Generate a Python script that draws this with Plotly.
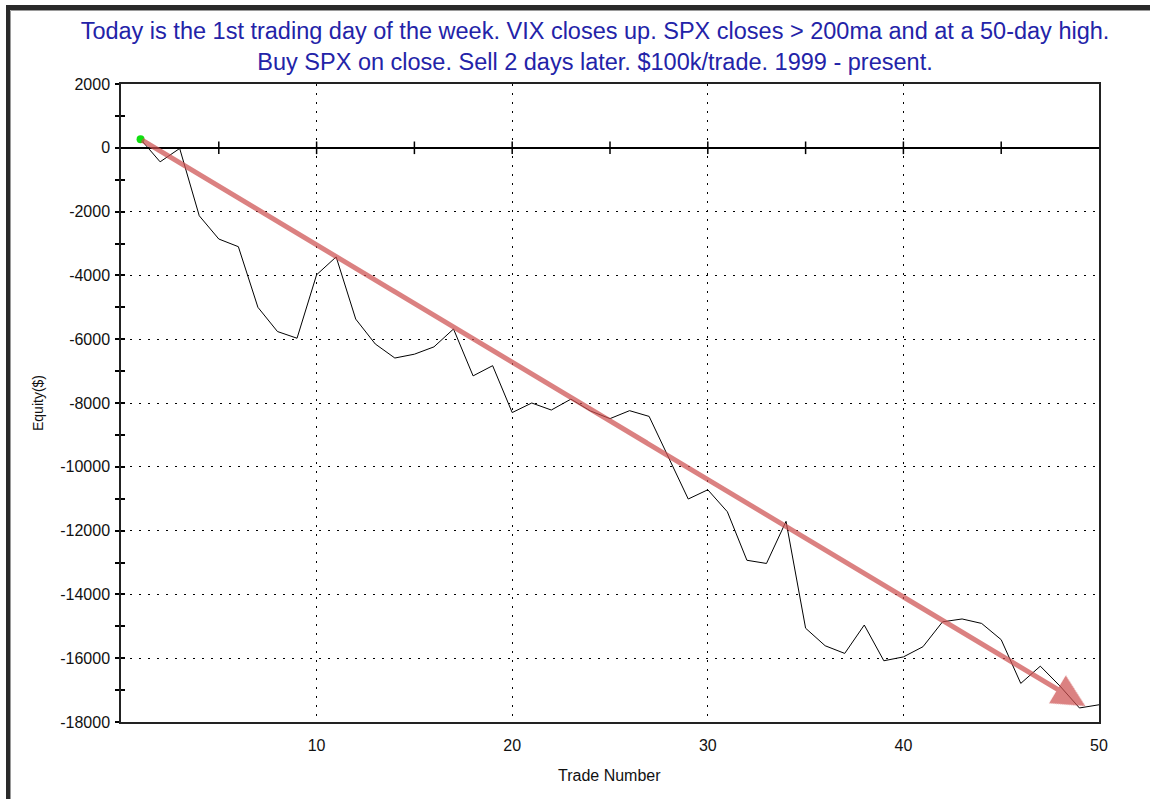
import plotly.graph_objects as go

# ---- data ----
trade_number = list(range(1, 51))
equity = [270, -440, -20, -2130, -2860, -3100, -5000, -5760, -5970, -3980,
          -3420, -5370, -6150, -6590, -6470, -6240, -5680, -7150, -6830, -8300,
          -8000, -8220, -7880, -8250, -8490, -8240, -8420, -9710, -11010, -10720,
          -11410, -12930, -13030, -11710, -15060, -15610, -15850, -14960, -16080, -15960,
          -15640, -14860, -14770, -14910, -15420, -16790, -16250, -16870, -17560, -17460]

x_range = [0, 50]
y_range = [-18000, 2000]
x_tick_vals = [10, 20, 30, 40, 50]
y_tick_vals = list(range(-18000, 2001, 2000))
y_tick_text = [str(v) for v in y_tick_vals]
zero_line_ticks = [5, 10, 15, 20, 25, 30, 35, 40, 45]
trend_start = (1, 270)
trend_end = (49.3, -17500)

title_lines = [
    "Today is the 1st trading day of the week. VIX closes up. SPX closes > 200ma and at a 50-day high.",
    "Buy SPX on close. Sell 2 days later. $100k/trade. 1999 - present.",
]

W, H = 1150, 799
L, R, T, B = 121, 51, 84, 77
PW, PH = W - L - R, H - T - B


def px_x(p):
    return (p - L) / PW


def px_y(p):
    return (H - B - p) / PH


fig = go.Figure()

fig.add_trace(go.Scatter(
    x=trade_number, y=equity, mode="lines",
    line=dict(color="black", width=1), showlegend=False, hoverinfo="skip"))

fig.add_trace(go.Scatter(
    x=zero_line_ticks, y=[0] * len(zero_line_ticks), mode="markers",
    marker=dict(symbol="line-ns-open", size=9, color="black",
                line=dict(color="black", width=1.5)),
    showlegend=False, hoverinfo="skip"))

fig.add_trace(go.Scatter(
    x=trade_number[:1], y=equity[:1], mode="markers",
    marker=dict(color="#10e010", size=8, line=dict(width=0)),
    showlegend=False, hoverinfo="skip"))

font_family = "Liberation Sans, Arial, sans-serif"
tick_font = dict(family=font_family, size=16, color="#111")

fig.update_layout(
    width=W, height=H,
    margin=dict(l=L, r=R, t=T, b=B),
    paper_bgcolor="white", plot_bgcolor="white",
    font=dict(family=font_family, size=16, color="#111"),
    title=dict(text="<br>".join(title_lines), x=595 / W, xanchor="center",
               y=1 - 39 / H, yanchor="middle",
               font=dict(family=font_family, size=23.5, color="#2323a8")),
    xaxis=dict(range=x_range, tickvals=x_tick_vals, showgrid=True,
               gridcolor="black", gridwidth=1, griddash="2px,7px",
               showline=True, linecolor="#222", linewidth=1.5, mirror=True,
               zeroline=False, ticks="", ticklabelstandoff=8,
               tickfont=tick_font),
    yaxis=dict(range=y_range, tickvals=y_tick_vals, ticktext=y_tick_text,
               showgrid=True,
               gridcolor="black", gridwidth=1, griddash="2px,7px",
               showline=True, linecolor="#222", linewidth=1.5, mirror=True,
               zeroline=True, zerolinecolor="black", zerolinewidth=1.5,
               ticks="outside", ticklen=4, tickwidth=1.5, tickcolor="black",
               minor=dict(dtick=1000, ticks="outside", ticklen=4, tickwidth=1.5,
                          tickcolor="black", showgrid=False),
               ticklabelstandoff=2, tickfont=tick_font),
    yaxis2=dict(range=y_range, overlaying="y", side="left", showgrid=False,
                zeroline=False, showline=False, showticklabels=False,
                tickvals=y_tick_vals, ticks="inside", ticklen=4, tickwidth=1.5,
                tickcolor="black",
                minor=dict(dtick=1000, ticks="inside", ticklen=4, tickwidth=1.5,
                           tickcolor="black")),
)

fig.add_trace(go.Scatter(x=[None], y=[None], yaxis="y2", showlegend=False,
                         hoverinfo="skip"))

fig.add_annotation(
    x=trend_end[0], y=trend_end[1], ax=trend_start[0], ay=trend_start[1],
    xref="x", yref="y", axref="x", ayref="y", text="",
    showarrow=True, arrowhead=2, arrowsize=1.3, arrowwidth=5,
    arrowcolor="rgba(205,80,80,0.72)", standoff=0, startstandoff=0)

fig.add_annotation(text="Equity($)", x=px_x(38), y=px_y(403), xref="paper", yref="paper",
                   textangle=-90, showarrow=False, xanchor="center", yanchor="middle",
                   font=dict(family=font_family, size=14, color="#111"))
fig.add_annotation(text="Trade Number", x=px_x(609), y=px_y(775), xref="paper", yref="paper",
                   showarrow=False, xanchor="center", yanchor="middle",
                   font=dict(family=font_family, size=16, color="#111"))

# outer frame (top and left dark borders with a light inner edge)
fig.add_shape(type="rect", xref="paper", yref="paper",
              x0=px_x(6), x1=px_x(W + 5), y0=px_y(10), y1=px_y(5),
              fillcolor="#2a2a2a", line=dict(width=0), layer="above")
fig.add_shape(type="rect", xref="paper", yref="paper",
              x0=px_x(6), x1=px_x(10), y0=px_y(H + 5), y1=px_y(5),
              fillcolor="#2a2a2a", line=dict(width=0), layer="above")
fig.add_shape(type="line", xref="paper", yref="paper",
              x0=px_x(10.5), x1=px_x(W + 5), y0=px_y(10.5), y1=px_y(10.5),
              line=dict(color="#9a9a9a", width=1), layer="above")
fig.add_shape(type="line", xref="paper", yref="paper",
              x0=px_x(10.5), x1=px_x(10.5), y0=px_y(10.5), y1=px_y(H + 5),
              line=dict(color="#9a9a9a", width=1), layer="above")

fig.write_html("out.html", config={"displayModeBar": False},
               post_script="document.body.style.margin='0';")
